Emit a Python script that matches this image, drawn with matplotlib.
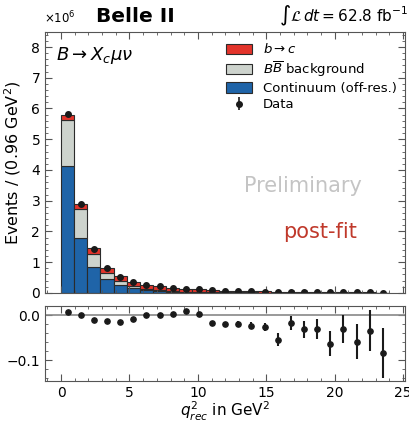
"""
Belle II q2 distribution with data/MC ratio panel
"""
import matplotlib
matplotlib.use("Agg")
import matplotlib.pyplot as plt
from matplotlib.patches import Patch
from matplotlib.ticker import MultipleLocator
import numpy as np

# bin edges (GeV^2), 25 bins of 0.96
edges = np.arange(26) * 0.96

# stacked components (units of 1e6 events)
continuum = [4.13, 1.80, 0.83, 0.44, 0.25, 0.15, 0.09, 0.06, 0.04, 0.025,
             0.02, 0.015, 0.012, 0.010, 0.008, 0.007, 0.006, 0.005, 0.004, 0.004,
             0.003, 0.003, 0.002, 0.002, 0.002]
bbbar = [1.50, 0.92, 0.45, 0.22, 0.14, 0.07, 0.04, 0.03, 0.02, 0.015,
         0.01, 0.008, 0.006, 0.005, 0.004, 0.003, 0.003, 0.002, 0.002, 0.002,
         0.001, 0.001, 0.001, 0.001, 0.001]
btoc = [0.16, 0.16, 0.17, 0.155, 0.15, 0.14, 0.13, 0.12, 0.105, 0.09,
        0.08, 0.07, 0.058, 0.05, 0.043, 0.036, 0.031, 0.027, 0.023, 0.019,
        0.016, 0.014, 0.012, 0.009, 0.007]
data = [5.83, 2.88, 1.43, 0.80, 0.53, 0.355, 0.26, 0.21, 0.165, 0.13,
        0.11, 0.091, 0.074, 0.064, 0.054, 0.044, 0.039, 0.033, 0.028, 0.024,
        0.019, 0.017, 0.014, 0.012, 0.009]
data_err = [0.01, 0.008, 0.006, 0.005, 0.004, 0.004, 0.003, 0.003, 0.003, 0.002,
            0.002, 0.002, 0.002, 0.002, 0.002, 0.002, 0.002, 0.002, 0.002, 0.002,
            0.002, 0.002, 0.002, 0.002, 0.002]

# ratio panel
ratio = [0.008, 0.0, -0.010, -0.013, -0.014, -0.008, 0.001, 0.001, 0.004, 0.009,
         0.003, -0.018, -0.020, -0.019, -0.023, -0.025, -0.054, -0.017, -0.031, -0.030,
         -0.063, -0.031, -0.059, -0.034, -0.084]
ratio_err = [0.002, 0.002, 0.002, 0.002, 0.003, 0.003, 0.003, 0.004, 0.004, 0.004,
             0.005, 0.006, 0.006, 0.007, 0.008, 0.009, 0.0135, 0.016, 0.019, 0.022,
             0.028, 0.031, 0.039, 0.046, 0.055]

c_red = "#e3342b"
c_grey = "#cdd3cd"
c_blue = "#1f64a8"

centers = 0.5 * (edges[:-1] + edges[1:])
width = np.diff(edges)

fig = plt.figure(figsize=(4.10, 4.22), dpi=100)
ax = fig.add_axes([0.110, 0.306, 0.878, 0.619])
axr = fig.add_axes([0.110, 0.098, 0.878, 0.178])

bottom = np.zeros(len(centers))
for vals, col in [(continuum, c_blue), (bbbar, c_grey), (btoc, c_red)]:
    ax.bar(centers, vals, width=width, bottom=bottom, color=col,
           edgecolor="#2b2b2b", linewidth=0.8)
    bottom = bottom + np.array(vals)

data_handle = ax.errorbar(centers, data, yerr=data_err, fmt="o", color="#1a1a1a",
                          markersize=4, elinewidth=1.2, capsize=0)

ax.set_xlim(-1.17, 25.15)
ax.set_ylim(0, 8.5)
ax.set_ylabel("Events / (0.96 GeV$^2$)", fontsize=11.5, labelpad=6)
ax.yaxis.set_major_locator(MultipleLocator(1))
ax.yaxis.set_minor_locator(MultipleLocator(0.2))
ax.xaxis.set_major_locator(MultipleLocator(5))
ax.xaxis.set_minor_locator(MultipleLocator(1))
ax.tick_params(labelbottom=False)

for a in (ax, axr):
    a.tick_params(which="both", direction="in", top=True, right=True,
                  labelsize=10, color="#555555")
    a.tick_params(which="major", length=5)
    a.tick_params(which="minor", length=2.5)
    for s in a.spines.values():
        s.set_color("#555555")

handles = [Patch(facecolor=c_red, edgecolor="#2b2b2b", linewidth=0.8),
           Patch(facecolor=c_grey, edgecolor="#2b2b2b", linewidth=0.8),
           Patch(facecolor=c_blue, edgecolor="#2b2b2b", linewidth=0.8),
           data_handle]
labels = [r"$b\to c$", r"$B\overline{B}$ background", "Continuum (off-res.)", "Data"]
ax.legend(handles, labels, loc="upper right", frameon=False, fontsize=9.5,
          handlelength=2.0, handleheight=0.8, labelspacing=0.25,
          handletextpad=0.8, bbox_to_anchor=(1.01, 1.005))

ax.text(0.03, 0.95, r"$B\to X_c\mu\nu$", transform=ax.transAxes,
        fontsize=13, va="top", ha="left")
ax.text(0.717, 0.41, "Preliminary", transform=ax.transAxes, fontsize=15,
        color="#c4c4c4", ha="center", va="center")
ax.text(0.764, 0.234, "post-fit", transform=ax.transAxes, fontsize=15,
        color="#c0392b", ha="center", va="center")

fig.text(0.108, 0.958, r"$\times10^6$", fontsize=8.5, va="center")
fig.text(0.235, 0.962, "Belle II", fontsize=14.5, fontweight="bold", va="center")
fig.text(0.995, 0.962, r"$\int\mathcal{L}\,dt = 62.8\ \mathrm{fb}^{-1}$",
         fontsize=11, ha="right", va="center")

axr.axhline(0, color="#888888", linewidth=1.2)
axr.errorbar(centers, ratio, yerr=ratio_err, fmt="o", color="#1a1a1a",
             markersize=3.8, elinewidth=1.5, capsize=0)
axr.set_xlim(-1.17, 25.15)
axr.set_ylim(-0.146, 0.022)
axr.yaxis.set_major_locator(MultipleLocator(0.1))
axr.yaxis.set_minor_locator(MultipleLocator(0.02))
axr.xaxis.set_major_locator(MultipleLocator(5))
axr.xaxis.set_minor_locator(MultipleLocator(1))
axr.set_xlabel(r"$q^2_{rec}$ in GeV$^2$", fontsize=11, labelpad=0)
axr.set_ylabel("Data", fontsize=9)
axr.yaxis.set_label_coords(-0.125, 0.5)

fig.savefig("out.png", dpi=100)
